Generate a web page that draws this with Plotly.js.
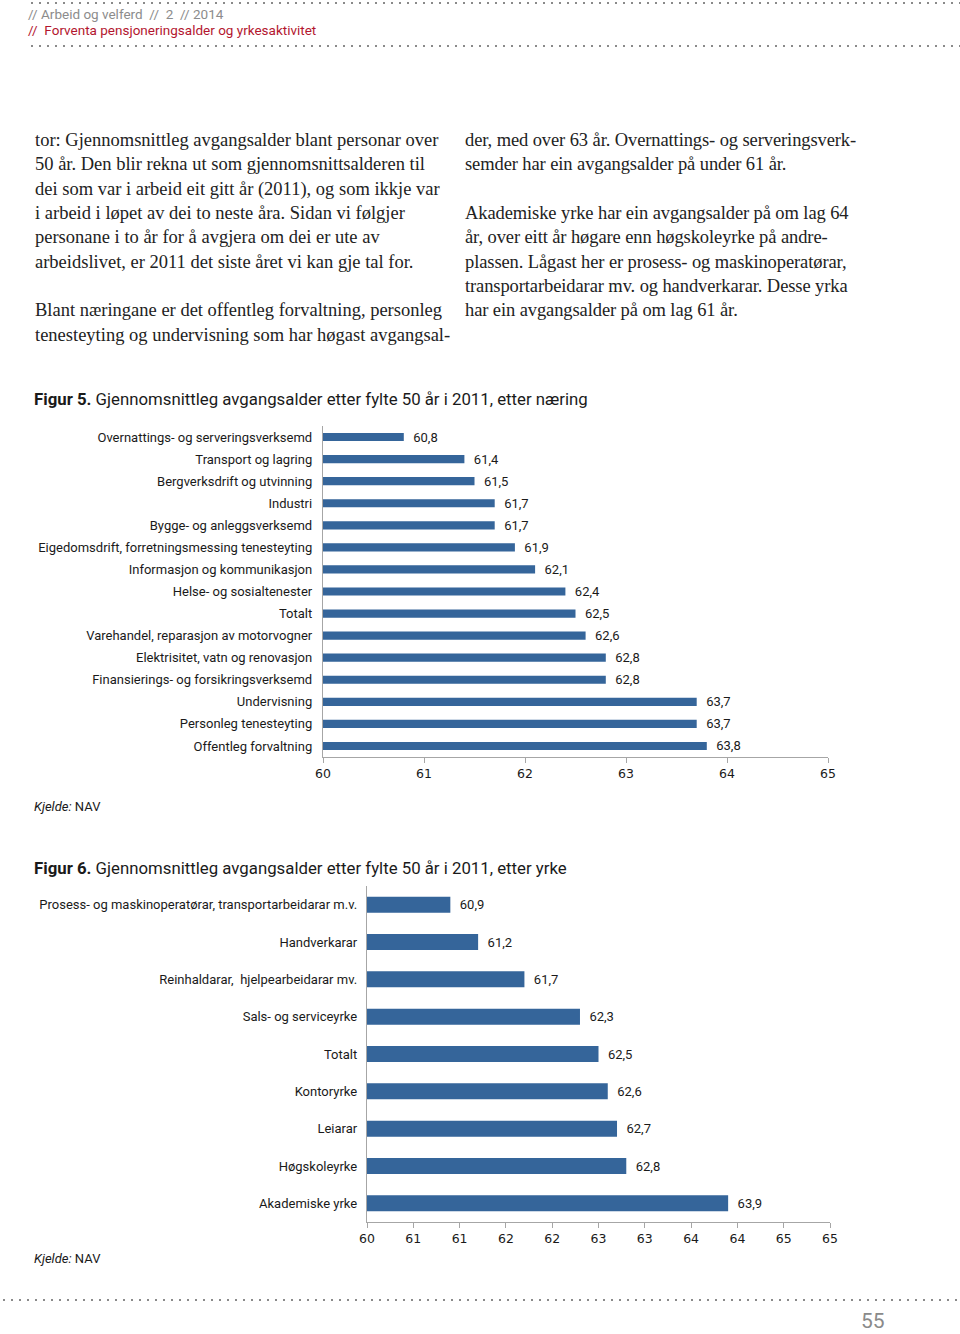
<!DOCTYPE html>
<html>
<head>
<meta charset="utf-8">
<script src="https://cdn.plot.ly/plotly-3.0.1.min.js"></script>
<style>
  html, body { margin: 0; padding: 0; background: #fff; }
  #page { position: relative; width: 960px; height: 1334px; overflow: hidden; background: #fff; }
  #chart { position: absolute; left: 0; top: 0; width: 960px; height: 1334px; }
  .dots { position: absolute; height: 2px;
    background-image: radial-gradient(circle, #8a8a8a 0.9px, transparent 1.2px);
    background-size: 8px 2px; background-repeat: repeat-x; }
  .hdr { position: absolute; left: 28px; font-family: Roboto, "Noto Sans", sans-serif; font-size: 13.5px; white-space: nowrap; }
  .body { position: absolute; font-family: "Liberation Serif", "Times New Roman", serif; font-size: 18.5px;
    line-height: 24.35px; color: #222; white-space: nowrap; }
  .ftitle { position: absolute; left: 34px; font-family: Roboto, "Noto Sans", sans-serif; font-size: 16.8px; color: #1a1a1a; white-space: nowrap; }
  .src { position: absolute; left: 34px; font-family: Roboto, "Noto Sans", sans-serif; font-size: 13px; color: #1a1a1a; white-space: nowrap; }
  .pgno { position: absolute; left: 861px; top: 1309px; font-family: Roboto, "Noto Sans", sans-serif; font-size: 21px; color: #8a8a8a; }
</style>
</head>
<body>
<div id="page">
  <div class="dots" style="left:28px; top:2px; width:932px;"></div>
  <div class="hdr" style="top:6px; color:#8c8c8c;">// Arbeid og velferd&nbsp; //&nbsp; 2&nbsp; // 2014</div>
  <div class="hdr" style="top:22px; color:#b3162f;">//&nbsp; Forventa pensjoneringsalder og yrkesaktivitet</div>
  <div class="dots" style="left:28px; top:45px; width:932px;"></div>

  <div class="body" style="left:35px; top:128px;">
    tor: Gjennomsnittleg avgangsalder blant personar over<br>
    50 år. Den blir rekna ut som gjennomsnittsalderen til<br>
    dei som var i arbeid eit gitt år (2011), og som ikkje var<br>
    i arbeid i løpet av dei to neste åra. Sidan vi følgjer<br>
    personane i to år for å avgjera om dei er ute av<br>
    arbeidslivet, er 2011 det siste året vi kan gje tal for.<br>
    <br>
    Blant næringane er det offentleg forvaltning, personleg<br>
    tenesteyting og undervisning som har høgast avgangsal-
  </div>
  <div class="body" style="left:465px; top:128px; letter-spacing:-0.1px;">
    der, med over 63 år. Overnattings- og serveringsverk-<br>
    semder har ein avgangsalder på under 61 år.<br>
    <br>
    Akademiske yrke har ein avgangsalder på om lag 64<br>
    år, over eitt år høgare enn høgskoleyrke på andre-<br>
    plassen. Lågast her er prosess- og maskinoperatørar,<br>
    transportarbeidarar mv. og handverkarar. Desse yrka<br>
    har ein avgangsalder på om lag 61 år.
  </div>

  <div id="chart"></div>

  <div class="ftitle" style="top:389px;"><b>Figur 5.</b> Gjennomsnittleg avgangsalder etter fylte 50 år i 2011, etter næring</div>
  <div class="src" style="top:799px;"><i>Kjelde:</i> NAV</div>
  <div class="ftitle" style="top:858px;"><b>Figur 6.</b> Gjennomsnittleg avgangsalder etter fylte 50 år i 2011, etter yrke</div>
  <div class="src" style="top:1251px;"><i>Kjelde:</i> NAV</div>

  <div class="dots" style="left:0px; top:1299px; width:960px;"></div>
  <div class="pgno">55</div>
</div>

<script>
// Figur 5: etter næring (top to bottom)
const naeringCategories = [
  "Overnattings- og serveringsverksemd",
  "Transport og lagring",
  "Bergverksdrift og utvinning",
  "Industri",
  "Bygge- og anleggsverksemd",
  "Eigedomsdrift, forretningsmessing tenesteyting",
  "Informasjon og kommunikasjon",
  "Helse- og sosialtenester",
  "Totalt",
  "Varehandel, reparasjon av motorvogner",
  "Elektrisitet, vatn og renovasjon",
  "Finansierings- og forsikringsverksemd",
  "Undervisning",
  "Personleg tenesteyting",
  "Offentleg forvaltning"
];
const naeringValues = [60.8, 61.4, 61.5, 61.7, 61.7, 61.9, 62.1, 62.4, 62.5, 62.6, 62.8, 62.8, 63.7, 63.7, 63.8];
const fig5TickVals = [60, 61, 62, 63, 64, 65];
const fig5TickText = ["60", "61", "62", "63", "64", "65"];

// Figur 6: etter yrke (top to bottom)
const yrkeCategories = [
  "Prosess- og maskinoperatørar, transportarbeidarar m.v.",
  "Handverkarar",
  "Reinhaldarar,  hjelpearbeidarar mv.",
  "Sals- og serviceyrke",
  "Totalt",
  "Kontoryrke",
  "Leiarar",
  "Høgskoleyrke",
  "Akademiske yrke"
];
const yrkeValues = [60.9, 61.2, 61.7, 62.3, 62.5, 62.6, 62.7, 62.8, 63.9];
const fig6TickVals = [60, 60.5, 61, 61.5, 62, 62.5, 63, 63.5, 64, 64.5, 65];
const fig6TickText = ["60", "61", "61", "62", "62", "63", "63", "64", "64", "65", "65"];

const AXIS_START = 60;
const barColor = "#35659a";
const axisColor = "#a6a6a6";
const labelFont = { family: "Roboto, 'Noto Sans', sans-serif", size: 13, color: "#1a1a1a" };
const tickFont = { family: "'DejaVu Sans', Verdana, sans-serif", size: 12.5, color: "#1a1a1a" };
const NB = "\u00a0";

const W = 960, H = 1334;
const px = v => v / W;
const py = v => 1 - v / H;

const fmt = v => NB + NB + v.toFixed(1).replace(".", ",");

const traces = [
  {
    type: "bar", orientation: "h",
    x: naeringValues.map(v => v - AXIS_START), y: naeringCategories,
    base: AXIS_START, xaxis: "x", yaxis: "y", width: 0.37,
    marker: { color: barColor, line: { width: 0 } },
    text: naeringValues.map(fmt),
    textposition: "outside", constraintext: "none", cliponaxis: false,
    textfont: labelFont,
    hoverinfo: "skip"
  },
  {
    type: "bar", orientation: "h",
    x: yrkeValues.map(v => v - AXIS_START), y: yrkeCategories,
    base: AXIS_START, xaxis: "x2", yaxis: "y2", width: 0.43,
    marker: { color: barColor, line: { width: 0 } },
    text: yrkeValues.map(fmt),
    textposition: "outside", constraintext: "none", cliponaxis: false,
    textfont: labelFont,
    hoverinfo: "skip"
  }
];

const layout = {
  width: W, height: H,
  margin: { l: 0, r: 0, t: 0, b: 0 },
  paper_bgcolor: "rgba(0,0,0,0)",
  plot_bgcolor: "rgba(0,0,0,0)",
  showlegend: false,
  uniformtext: { mode: false },
  xaxis: {
    domain: [px(323), px(828)], anchor: "y",
    range: [60, 65], fixedrange: true,
    tickvals: fig5TickVals, ticktext: fig5TickText,
    ticks: "outside", ticklen: 5, tickcolor: axisColor, tickwidth: 1,
    showline: true, linecolor: axisColor, linewidth: 1.2,
    showgrid: false, zeroline: false,
    tickfont: tickFont
  },
  yaxis: {
    domain: [py(757), py(426)], anchor: "x",
    type: "category", categoryorder: "array", categoryarray: naeringCategories,
    autorange: "reversed", fixedrange: true,
    showline: true, linecolor: axisColor, linewidth: 1.2,
    ticks: "", showgrid: false, zeroline: false,
    ticklabelstandoff: 7,
    tickfont: labelFont
  },
  xaxis2: {
    domain: [px(367), px(830)], anchor: "y2",
    range: [60, 65], fixedrange: true,
    tickvals: fig6TickVals, ticktext: fig6TickText,
    ticks: "outside", ticklen: 5, tickcolor: axisColor, tickwidth: 1,
    showline: true, linecolor: axisColor, linewidth: 1.2,
    showgrid: false, zeroline: false,
    tickfont: tickFont
  },
  yaxis2: {
    domain: [py(1222), py(886)], anchor: "x2",
    type: "category", categoryorder: "array", categoryarray: yrkeCategories,
    autorange: "reversed", fixedrange: true,
    showline: true, linecolor: axisColor, linewidth: 1.2,
    ticks: "", showgrid: false, zeroline: false,
    ticklabelstandoff: 6,
    tickfont: labelFont
  }
};

Plotly.newPlot("chart", traces, layout, { staticPlot: true, displayModeBar: false });
</script>
</body>
</html>
